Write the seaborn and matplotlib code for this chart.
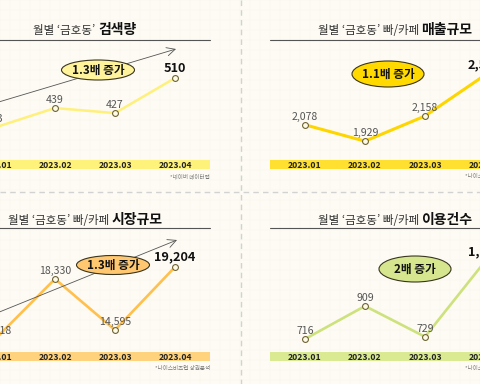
import numpy as np
import matplotlib
matplotlib.use("Agg")
import matplotlib.pyplot as plt
import seaborn as sns
from matplotlib.patches import Ellipse, Rectangle
from matplotlib.offsetbox import TextArea, HPacker, AnnotationBbox

# ---------------- data ----------------
months = ["2023.01", "2023.02", "2023.03", "2023.04"]
search_vals = [393, 439, 427, 510]          # 검색량
sales_vals = [2078, 1929, 2158, 2530]       # 매출규모
market_vals = [13918, 18330, 14595, 19204]  # 시장규모
usage_vals = [716, 909, 729, 1170]          # 이용건수

title_plain = ["월별 ‘금호동’ ", "월별 ‘금호동’ 빠/카페 ",
               "월별 ‘금호동’ 빠/카페 ", "월별 ‘금호동’ 빠/카페 "]
title_bold = ["검색량", "매출규모", "시장규모", "이용건수"]
badge_texts = ["1.3배 증가", "1.1배 증가", "1.3배 증가", "2배 증가"]
source_texts = ["*네이버 데이터랩", "*나이스비즈맵 상권분석",
                "*나이스비즈맵 상권분석", "*나이스비즈맵 상권분석"]
series = [search_vals, sales_vals, market_vals, usage_vals]

# ---------------- style ----------------
sns.set_style("white")
plt.rcParams["font.family"] = ["Noto Sans CJK KR", "DejaVu Sans"]

line_colors = ["#fff07c", "#ffd500", "#ffc04d", "#cde27c"]
band_colors = ["#fff27a", "#ffe031", "#ffd37d", "#d9ea92"]
badge_fills = ["#fff39c", "#ffd900", "#ffc870", "#d5e68e"]
line_widths = [1.8, 2.2, 1.9, 1.9]
ylims = [(316, 600), (1758, 2849), (12986, 21764), (640, 1342)]

W, H = 480, 384
fig = plt.figure(figsize=(4.8, 3.84), dpi=100)
BG = "#fdfbf3"
fig.patch.set_facecolor(BG)

# background layer (pixel coordinates)
bg = fig.add_axes([0, 0, 1, 1], zorder=0)
bg.set_xlim(0, W)
bg.set_ylim(H, 0)
bg.axis("off")
for gx in range(0, W + 1, 10):
    bg.plot([gx, gx], [0, H], color="#f8f6ea", lw=0.3, zorder=0)
for gy in range(0, H + 1, 10):
    bg.plot([0, W], [gy, gy], color="#f8f6ea", lw=0.3, zorder=0)
bg.plot([0, W], [191.5, 191.5], color="#d2d2d2", lw=1.0, ls=(0, (4, 3)), zorder=1)
bg.plot([241, 241], [0, H], color="#d2d2d2", lw=1.0, ls=(0, (4, 3)), zorder=1)

# overlay layer (pixel coordinates)
ov = fig.add_axes([0, 0, 1, 1], zorder=3)
ov.set_xlim(0, W)
ov.set_ylim(H, 0)
ov.axis("off")
ov.patch.set_alpha(0)

col_left = [-40, 270, -40, 270]
row_off = [0, 0, 192, 192]
title_y = [30, 30, 220, 220]
underline_y = [40, 40, 228, 228]
badge_xy = [(98, 70), (388, 74), (113, 265), (415, 269)]
badge_wh = [(73, 20), (72, 26), (73, 19), (72, 26)]
arrows = [((-8, 104), (176, 49)), ((302, 104), (484, 50)),
          ((-8, 315), (177, 240)), ((303, 316), (484, 237))]
PW = 250

for k in range(4):
    L, R0 = col_left[k], row_off[k]
    ax = fig.add_axes([L / W, 1 - (R0 + 160) / H, PW / W, 120 / H], zorder=1)
    ax.patch.set_alpha(0)
    x = np.arange(len(months))
    vals = series[k]
    sns.lineplot(x=x, y=vals, ax=ax, color=line_colors[k], lw=line_widths[k],
                 marker="o", markersize=4.2, markerfacecolor="#fffbe6",
                 markeredgecolor="#6d6233", markeredgewidth=0.8, zorder=2)
    ax.set_xlim(-35 / 60, 3 + 35 / 60)
    ax.set_ylim(*ylims[k])
    for s in ax.spines.values():
        s.set_visible(False)
    ax.set_yticks([])
    ax.set_xticks(x)
    ax.set_xticklabels(months, fontsize=6.2, fontweight="bold", color="#222222")
    ax.tick_params(axis="x", length=0, pad=1.0)
    ax.set_xlabel("")
    ax.set_ylabel("")
    # label band
    ax.add_patch(Rectangle((0, -8.5 / 120), 1, 8.5 / 120, transform=ax.transAxes,
                           clip_on=False, facecolor=band_colors[k], edgecolor="none",
                           zorder=0.5))
    # value labels
    for i, v in enumerate(vals):
        last = i == len(vals) - 1
        ax.annotate(f"{v:,}", (i, v), xytext=(0, 4.6 if last else 3.8),
                    textcoords="offset points", ha="center", va="baseline",
                    fontsize=9.2 if last else 7.6,
                    fontweight="bold" if last else "normal",
                    color="#111111" if last else "#555555", zorder=4)

    # title
    cx = L + PW / 2
    t1 = TextArea(title_plain[k], textprops=dict(fontsize=8.3, color="#333333"))
    t2 = TextArea(title_bold[k], textprops=dict(fontsize=10, fontweight="bold",
                                                color="#111111"))
    pack = HPacker(children=[t1, t2], align="baseline", pad=0, sep=0)
    ab = AnnotationBbox(pack, (cx, title_y[k]), xycoords="data", frameon=False,
                        box_alignment=(0.5, 0.5), pad=0)
    ov.add_artist(ab)
    ov.plot([L, L + PW], [underline_y[k], underline_y[k]], color="#555555", lw=0.8)

    # source note
    ov.text(L + PW, R0 + 177, source_texts[k], ha="right", va="center",
            fontsize=4, color="#777777")

    # trend arrow
    (x0, y0), (x1, y1) = arrows[k]
    ov.annotate("", xy=(x1, y1), xytext=(x0, y0),
                arrowprops=dict(arrowstyle="->,head_length=0.6,head_width=0.3",
                                color="#555555", lw=0.6, shrinkA=0, shrinkB=0),
                zorder=2)
    # badge
    bx, by = badge_xy[k]
    bw, bh = badge_wh[k]
    ov.add_patch(Ellipse((bx, by), bw, bh, facecolor=badge_fills[k],
                         edgecolor="#3a3520", lw=0.8, zorder=3))
    ov.text(bx, by + 0.5, badge_texts[k], ha="center", va="center", fontsize=8.4,
            fontweight="bold", color="#111111", zorder=4)

fig.savefig("out.png", dpi=100, facecolor=BG)
